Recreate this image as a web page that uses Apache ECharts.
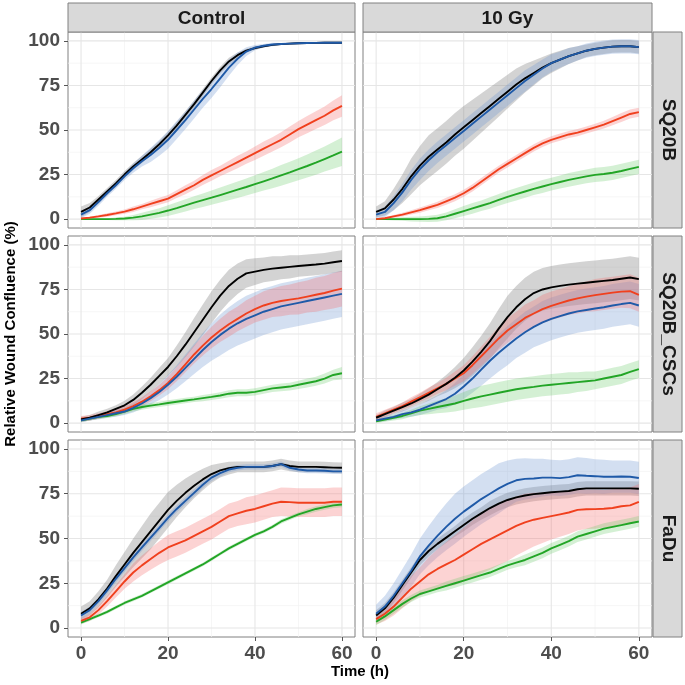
<!DOCTYPE html>
<html><head><meta charset="utf-8">
<script src="https://cdn.jsdelivr.net/npm/echarts@6/dist/echarts.min.js"></script>
<style>html,body{margin:0;padding:0;background:#fff}#c{width:685px;height:685px}</style>
</head><body><div id="c"></div>
<script>
// ---------- data ----------
const time = [0,2,4,6,8,10,12,14,16,18,20,22,24,26,28,30,32,34,36,38,40,42,44,46,48,50,52,54,56,58,60];
const xTicks = [0,20,40,60];
const xMinor = [10,30,50];
const yTicks = [0,25,50,75,100];
const yMinor = [12.5,37.5,62.5,87.5];
const colLabels = ['Control','10 Gy'];
const rowLabels = ['SQ20B','SQ20B_CSCs','FaDu'];

// SQ20B, Control
const sq20b_ctrl_black = [4,6.5,11,15.5,20,25,29.5,33.5,37.5,42,47,52.5,58.5,64.5,71,77.5,83.5,88.5,92,94.5,96,97,97.8,98.2,98.5,98.7,98.8,98.9,99,99,99];
const sq20b_ctrl_black_sd = [3,2.5,2,2,2,2,2,2,2,2,2,2,2,2,2,2,2,2,1.5,1,1,0.5,0.5,0.5,0.5,0.5,0.5,0.5,0.5,0.5,0.5];
const sq20b_ctrl_blue = [2.5,5,9.5,14.5,19,24,28.5,32.5,36,40,44.5,50,55.5,61.5,67.5,73,79,85,90,94,96.2,97.3,98,98.3,98.5,98.7,98.8,98.9,99,99,99];
const sq20b_ctrl_blue_sd = [2,2,2,2,2,2,2.5,3,4,4.5,5,5,5,5,5,5,5,4.5,3.5,2.5,1.5,1,1,0.5,0.5,0.5,0.5,0.5,0.5,0.5,0.5];
const sq20b_ctrl_red = [0.3,0.8,1.5,2.3,3.2,4.2,5.5,7,8.5,10,11.5,14,16.5,19,22,24.5,27,29.5,32,34.5,37,39.5,42,44.5,47.5,50.5,53,55.5,58,61,63.5];
const sq20b_ctrl_red_sd = [0.5,0.5,0.8,1,1,1.2,1.5,1.5,1.8,2,2,2.2,2.5,2.5,2.8,3,3,3.2,3.5,3.5,3.8,4,4,4.2,4.5,4.5,4.8,5,5.2,5.5,6];
const sq20b_ctrl_green = [0,0,0,0,0.1,0.3,0.8,1.5,2.5,3.5,4.8,6.2,7.7,9.2,10.6,12,13.5,15,16.5,18,19.6,21.2,22.8,24.5,26.2,28,29.8,31.7,33.7,35.7,37.8];
const sq20b_ctrl_green_sd = [0.2,0.2,0.3,0.5,0.8,1,1.5,2,2.3,2.6,3,3.2,3.4,3.6,3.8,4,4.2,4.4,4.6,4.8,5,5.2,5.5,5.8,6,6.2,6.5,6.8,7,7.5,8];

// SQ20B, 10 Gy
const sq20b_gy_black = [4,6,11,17,24,30,35,39,43,47.5,51.5,55.5,59.5,63.5,67.5,71.5,75.5,79,82,85,87.5,89.5,91.5,93,94.5,95.5,96.2,96.8,97,97,96.5];
const sq20b_gy_black_sd = [3,4,6,8,10,11,12,12,12,12,12,11.5,11,10.5,10,9.5,9,8,7,6,5.5,5,4.5,4,3.5,3.5,3.5,3.5,3.5,3.5,3.5];
const sq20b_gy_blue = [2.5,4,9,15,22,28,33,37.5,41.5,45.5,49.5,53.5,57.5,61.5,65.5,69.5,73.5,77.5,81,84.5,87.5,89.5,91.5,93,94.5,95.5,96.2,96.8,97,97,96.5];
const sq20b_gy_blue_sd = [2,3,4,5,5.5,6,6,6,6,6,6,6,6,6,6,6,6,6,5.5,5,5,4.5,4.5,4,4,4,4,4,4,4,4];
const sq20b_gy_red = [0,0.5,1.5,2.5,3.8,5,6.5,8,10,12,14.5,17.5,21,24.5,28,31,34,37,40,42.5,44.5,46,47.5,48.5,50,51.5,53,55,57,59,60];
const sq20b_gy_red_sd = [0.3,0.5,0.8,1,1.2,1.5,1.5,1.8,2,2,2,2,2,2,2,2,2,2,2,2,2,2,2,2,2,2,2.2,2.3,2.5,2.5,2.5];
const sq20b_gy_green = [0,0,0,0,0,0,0.1,0.5,1.5,3,4.5,6,7.5,9,10.8,12.5,14,15.5,17,18.3,19.6,20.8,22,23,24,24.8,25.3,26,27,28.2,29.3];
const sq20b_gy_green_sd = [0.2,0.5,0.8,1,1.3,1.5,1.8,2,2.2,2.5,2.8,3,3,3.2,3.3,3.4,3.5,3.5,3.5,3.6,3.6,3.7,3.8,3.8,3.9,4,4,4,4,4,4];

// SQ20B_CSCs, Control
const cscs_ctrl_black = [2,3,4.5,6,8,10,13,17,21.5,26.5,31.5,37.5,44,51,58,65,71.5,77,81,84,85,86,86.7,87.2,87.7,88.2,88.6,89,89.5,90.3,91];
const cscs_ctrl_black_sd = [1.5,1.5,2,2,2,2.5,3,3.5,4,4.5,5,6,7,8,8.5,9,9,9,8.5,8,7.5,7,7,6.5,6.5,6,6,6,6,6,6];
const cscs_ctrl_blue = [1.5,2.5,3.5,4.5,5.5,6.5,8.5,11,14,17.5,21.5,26,31,36,41,45.5,49.5,53,56,58.5,60.5,62.5,64,65.5,66.5,67.5,68.5,69.5,70.5,71.5,72.5];
const cscs_ctrl_blue_sd = [1,1,1.5,1.5,2,2,2.5,3,3.5,4.5,5.5,6.5,7.5,8.5,9.5,10.5,11.5,12,12.5,13,13,13,13,13,13,13,13,13,13,13,13];
const cscs_ctrl_red = [2.5,3,4,5,6,7.5,9.5,12,15,18.5,22.5,27.5,33,38.5,43.5,48,52,55.5,58.5,61.5,64,66,67.5,68.5,69.3,70,71,72,73,74.3,75.5];
const cscs_ctrl_red_sd = [1.5,1.5,1.5,1.5,1.8,2,2.2,2.5,2.8,3,3.5,4,4.5,5,5.5,6,6.5,7,7,7.5,7.5,8,8,8.5,8.5,9,9,9.5,9.5,10,10];
const cscs_ctrl_green = [1.5,2.5,3.5,4,5,6.5,8,9,9.8,10.5,11.3,12,12.7,13.3,14,14.7,15.5,16.5,17,17,17.5,18.5,19.5,20,20.5,21.5,22.5,23.5,25,27,28];
const cscs_ctrl_green_sd = [0.8,1,1,1.2,1.2,1.5,1.5,1.5,1.5,1.5,1.5,1.5,1.5,1.5,1.8,1.8,1.8,2,2,2,2,2,2,2.2,2.2,2.3,2.5,2.5,2.8,3,3.5];

// SQ20B_CSCs, 10 Gy
const cscs_gy_black = [3,5,7,9,11,13.5,16,19,22,25.5,29.5,34.5,40,46,53,59.5,65,69.5,73,75,76.2,77,77.7,78.3,78.8,79.3,79.8,80.3,81,81.7,80.8];
const cscs_gy_black_sd = [1.5,2,2,2.5,2.5,3,3.5,4,5,6,7,8,9,10,11,12,12,12,12,12,12,12,12,12,12,12,12,12,12,12,12];
const cscs_gy_blue = [1.5,2.5,3.5,5,6,7.5,9.5,11.5,13.5,16.5,20.5,25,30,35,39.5,43.5,47.5,51,54,56.5,58.5,60,61.5,62.7,63.5,64.3,65,66,66.8,67.5,66];
const cscs_gy_blue_sd = [1,1.5,1.5,2,2.5,3,3.5,4,5,6,7,8,9,10,10.5,11,11,11.5,11.5,12,12,12,12,12,12,12,12,12,12,12,12];
const cscs_gy_red = [3.5,5.5,7.5,9.5,12,14.5,17,19.5,22,25,28,32.5,37.5,42.5,47.5,52,55.5,59,61.5,64,65.8,67.3,68.8,70,71,71.8,72.5,73.2,73.8,74,72];
const cscs_gy_red_sd = [2,2,2,2,2.5,2.5,3,3,3.5,4,4.5,5,5.5,6,6.5,7,7,7.5,7.5,8,8,8,8,8.5,8.5,9,9,9,9,9.5,9.5];
const cscs_gy_green = [1,2,3,4,5.5,7,8,9,10,11,12.5,13.8,15,16,17,18,19,19.7,20.3,21,21.5,22,22.5,23,23.5,24,25,26,27,28.7,30.3];
const cscs_gy_green_sd = [1,1.2,1.5,1.8,2,2.5,3,3.5,4,4.5,5,5.5,6,6,6,6,6,6,6,6,6,6,6,5.5,5.5,5,5,5,5,5,5];

// FaDu, Control
const fadu_ctrl_black = [8,11,16,22,29,35.5,42,48,54,60,66,71,75.5,79.5,83,86,88,89.3,90,90,90,90,90.5,91.5,90.5,90,90,90,89.8,89.6,89.5];
const fadu_ctrl_black_sd = [4,4,4.5,5,6,7,8,9,10,10,10,9,8,7,6,5,4,3.5,3,3,3,3,3,3,3,3,3,3,3,3,3];
const fadu_ctrl_blue = [7,10,15,21,27.5,33.5,39.5,45,50.5,56,61.5,66.5,71,75.5,80,84,86.5,88.5,89.5,90,90,90,90.5,91.5,89.5,88.5,88,88,87.8,87.5,87.5];
const fadu_ctrl_blue_sd = [2,2,2,2,2,2,2,2,2,2,2,2,2,2,2,2,2,1.5,1.5,1.5,1.5,1.5,1.5,1.5,1.5,1.5,1.5,1.5,1.5,1.5,1.5];
const fadu_ctrl_red = [4,6,10,15,20.5,26,31,35,38.5,42,45,47,49,51.5,54,56.5,59.5,62.5,64,65.5,66.5,68,69.5,70.5,70.3,70,70,70,70,70.5,70.5];
const fadu_ctrl_red_sd = [1.5,2,2.5,3,3.5,4,5,5.5,6,6.5,7,7,7,7,7,7,7,7,7,7.5,7.5,7.5,7.5,8,8,8,8,8,8,8,8];
const fadu_ctrl_green = [3,5,7,9,11.5,14,16,18,20.5,23,25.5,28,30.5,33,35.5,38.5,41.5,44.5,47,49.5,52,54,56.5,59.5,61.5,63.5,65,66.5,67.5,68.5,69];
const fadu_ctrl_green_sd = [1,1,1,1,1,1,1,1,1,1,1,1,1,1,1,1,1,1,1,1,1,1,1,1.2,1.2,1.2,1.5,1.5,1.5,1.5,1.5];

// FaDu, 10 Gy
const fadu_gy_black = [7,11,17,24,31,38,43,47,50.5,54,57.5,61,64,67,69.5,71.5,73,74,74.8,75.3,75.8,76.2,76.5,77.5,78,78,78,78,78,78,77.8];
const fadu_gy_black_sd = [3,3,3,3,3,3,3,3,3,3,3.5,3.5,3.5,4,4,4,4,4,4,4,4,4,4,4,4,4,4,4,4,4,4];
const fadu_gy_blue = [8,12,18,25,32,40,46,51.5,56.5,61,65,68.5,72,75,78,80.5,82.5,83.3,83.5,84,84,83.7,84.3,85.3,85,84.8,84.5,84.5,84.6,84.5,83.8];
const fadu_gy_blue_sd = [5,6,7,8,9,10,11,12,13,14,14,14,14,14,14,13,12,11.5,11,10.5,10,10,10,10,10,9.5,9.5,9,9,9,9];
const fadu_gy_red = [5,8,12,17,22,26,30,33,35.5,38,41,44,47,49.5,52,54.5,57,59,60.5,61.5,62.5,63.5,64.5,66,66.3,66.4,66.6,67,68,68.5,70.5];
const fadu_gy_red_sd = [3,4,5,6,7,8,9.5,11,12.5,14,15,16,16.5,17,17,17,16.5,16,15,14,13,12.5,12,11.5,11,11,10.5,10.5,10,10,10];
const fadu_gy_green = [3.5,6.5,10,13.5,16.5,19,20.5,22,23.5,25,26.5,28,29.5,31,33,35,36.5,38,40,42,44.5,46.5,48.5,51,52.5,54,55.5,56.5,57.5,58.5,59.5];
const fadu_gy_green_sd = [2,2,2,2,2,2,2,2,2.5,2.5,2.5,2.5,2.5,2.5,2.5,2.5,2.5,3,3,3,3,3,3,3,3,3,3,3,3,3,3];

// ---------- layout / style ----------
const colLeft = [68, 363], colW = [287, 289];
const rowTop = [32, 236, 440], rowH = [196, 196, 197];
const stripTop = 3, stripH = 29, rStripLeft = 653, rStripW = 29;
const lineColor = {black:'#000000', blue:'#1F5AA8', red:'#F0401E', green:'#22A526'};
const bandColor = {black:'rgba(130,130,130,0.35)', blue:'rgba(110,150,210,0.30)', red:'rgba(245,110,110,0.30)', green:'rgba(100,200,100,0.28)'};
const borderCol = '#808080';
const tickFont = {color:'#4D4D4D', fontSize:19, fontWeight:'bold', fontFamily:'Liberation Sans, Arial, sans-serif'};

const panels = [
  {row:0,col:0,s:{black:[sq20b_ctrl_black,sq20b_ctrl_black_sd],blue:[sq20b_ctrl_blue,sq20b_ctrl_blue_sd],red:[sq20b_ctrl_red,sq20b_ctrl_red_sd],green:[sq20b_ctrl_green,sq20b_ctrl_green_sd]}},
  {row:0,col:1,s:{black:[sq20b_gy_black,sq20b_gy_black_sd],blue:[sq20b_gy_blue,sq20b_gy_blue_sd],red:[sq20b_gy_red,sq20b_gy_red_sd],green:[sq20b_gy_green,sq20b_gy_green_sd]}},
  {row:1,col:0,s:{black:[cscs_ctrl_black,cscs_ctrl_black_sd],blue:[cscs_ctrl_blue,cscs_ctrl_blue_sd],red:[cscs_ctrl_red,cscs_ctrl_red_sd],green:[cscs_ctrl_green,cscs_ctrl_green_sd]}},
  {row:1,col:1,s:{black:[cscs_gy_black,cscs_gy_black_sd],blue:[cscs_gy_blue,cscs_gy_blue_sd],red:[cscs_gy_red,cscs_gy_red_sd],green:[cscs_gy_green,cscs_gy_green_sd]}},
  {row:2,col:0,s:{black:[fadu_ctrl_black,fadu_ctrl_black_sd],blue:[fadu_ctrl_blue,fadu_ctrl_blue_sd],red:[fadu_ctrl_red,fadu_ctrl_red_sd],green:[fadu_ctrl_green,fadu_ctrl_green_sd]}},
  {row:2,col:1,s:{black:[fadu_gy_black,fadu_gy_black_sd],blue:[fadu_gy_blue,fadu_gy_blue_sd],red:[fadu_gy_red,fadu_gy_red_sd],green:[fadu_gy_green,fadu_gy_green_sd]}}
];

const grids = [], xAxes = [], yAxes = [], series = [];

function gridRender(params, api){
  const ch = [];
  const x0 = api.coord([-3, 0])[0], x1 = api.coord([63, 0])[0];
  const y0 = api.coord([0, -5])[1], y1 = api.coord([0, 105])[1];
  yMinor.forEach(v=>{const y=api.coord([0,v])[1]; ch.push({type:'line',shape:{x1:x0,y1:y,x2:x1,y2:y},style:{stroke:'#F2F2F2',lineWidth:0.7}});});
  xMinor.forEach(v=>{const x=api.coord([v,0])[0]; ch.push({type:'line',shape:{x1:x,y1:y0,x2:x,y2:y1},style:{stroke:'#F2F2F2',lineWidth:0.7}});});
  yTicks.forEach(v=>{const y=api.coord([0,v])[1]; ch.push({type:'line',shape:{x1:x0,y1:y,x2:x1,y2:y},style:{stroke:'#E6E6E6',lineWidth:1.1}});});
  xTicks.forEach(v=>{const x=api.coord([v,0])[0]; ch.push({type:'line',shape:{x1:x,y1:y0,x2:x,y2:y1},style:{stroke:'#E6E6E6',lineWidth:1.1}});});
  return {type:'group', children: ch};
}
function bandRender(mean, sd, color){
  return function(params, api){
    const up = [], dn = [];
    for (let i = 0; i < time.length; i++){
      up.push(api.coord([time[i], mean[i] + sd[i]]));
      dn.push(api.coord([time[i], mean[i] - sd[i]]));
    }
    return {type:'polygon', shape:{points: up.concat(dn.reverse())}, style:{fill: color}};
  };
}

panels.forEach((p, i) => {
  grids.push({left: colLeft[p.col], top: rowTop[p.row], width: colW[p.col], height: rowH[p.row],
    show: true, borderColor: borderCol, borderWidth: 1, backgroundColor: '#fff', containLabel: false});
  const bottom = p.row === 2, left = p.col === 0;
  xAxes.push({gridIndex: i, type: 'value', min: -3, max: 63,
    axisLine: {show: false, onZero: false},
    axisTick: {show: bottom, customValues: xTicks, length: 4, lineStyle: {color: '#555'}},
    axisLabel: Object.assign({show: bottom, customValues: xTicks, margin: 7}, tickFont),
    splitLine: {show: false}});
  yAxes.push({gridIndex: i, type: 'value', min: -5, max: 105,
    axisLine: {show: false, onZero: false},
    axisTick: {show: left, customValues: yTicks, length: 4, lineStyle: {color: '#555'}},
    axisLabel: Object.assign({show: left, customValues: yTicks, margin: 8}, tickFont),
    splitLine: {show: false}});
  series.push({type: 'custom', xAxisIndex: i, yAxisIndex: i, data: [[0, 0]], encode: {x: 0, y: 1},
    renderItem: gridRender, silent: true, z: 1});
  ['black', 'blue', 'red', 'green'].forEach(k => {
    series.push({type: 'custom', xAxisIndex: i, yAxisIndex: i, data: [[0, 0]], encode: {x: 0, y: 1},
      renderItem: bandRender(p.s[k][0], p.s[k][1], bandColor[k]), silent: true, clip: true, z: 2});
  });
  ['green', 'red', 'black', 'blue'].forEach(k => {
    series.push({type: 'line', xAxisIndex: i, yAxisIndex: i, showSymbol: false, symbol: 'none',
      data: time.map((t, j) => [t, p.s[k][0][j]]), lineStyle: {color: lineColor[k], width: 1.9},
      silent: true, z: 3, animation: false});
  });
});

const graphics = [];
colLabels.forEach((lab, c) => {
  graphics.push({type: 'rect', shape: {x: colLeft[c], y: stripTop, width: colW[c], height: stripH},
    style: {fill: '#D9D9D9', stroke: borderCol, lineWidth: 1}, z: 10});
  graphics.push({type: 'text', x: colLeft[c] + colW[c] / 2, y: stripTop + stripH / 2 + 1,
    style: {text: lab, font: 'bold 19px Liberation Sans, Arial, sans-serif', fill: '#1A1A1A', align: 'center', verticalAlign: 'middle'}, z: 11});
});
rowLabels.forEach((lab, r) => {
  graphics.push({type: 'rect', shape: {x: rStripLeft, y: rowTop[r], width: rStripW, height: rowH[r]},
    style: {fill: '#D9D9D9', stroke: borderCol, lineWidth: 1}, z: 10});
  graphics.push({type: 'text', x: rStripLeft + rStripW / 2 + 1, y: rowTop[r] + rowH[r] / 2, rotation: -Math.PI / 2,
    style: {text: lab, font: 'bold 19px Liberation Sans, Arial, sans-serif', fill: '#1A1A1A', align: 'center', verticalAlign: 'middle'}, z: 11});
});
graphics.push({type: 'text', x: 11, y: 334, rotation: Math.PI / 2,
  style: {text: 'Relative Wound Confluence (%)', font: 'bold 15px Liberation Sans, Arial, sans-serif', fill: '#000', align: 'center', verticalAlign: 'middle'}});
graphics.push({type: 'text', x: 360, y: 672,
  style: {text: 'Time (h)', font: 'bold 15px Liberation Sans, Arial, sans-serif', fill: '#000', align: 'center', verticalAlign: 'middle'}});

const chart = echarts.init(document.getElementById('c'), null, {renderer: 'canvas'});
chart.setOption({animation: false, backgroundColor: '#fff', grid: grids, xAxis: xAxes, yAxis: yAxes, series: series, graphic: graphics});
</script></body></html>
